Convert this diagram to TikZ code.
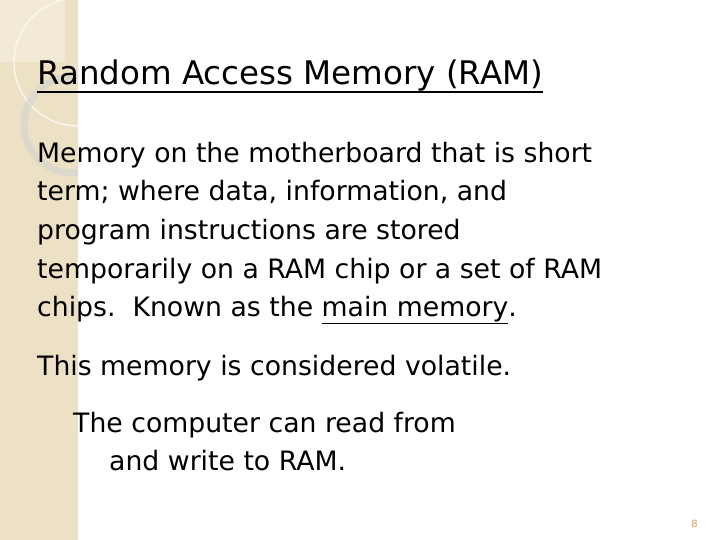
\documentclass[tikz,border=0pt]{standalone}
\usepackage{fontspec}
\setmainfont{DejaVu Sans}
\definecolor{strip}{RGB}{236,225,196}
\definecolor{stripLight}{RGB}{242,234,212}
\definecolor{pagenum}{RGB}{215,160,100}
\tikzset{
    body/.style={anchor=base west, inner sep=0pt, font=\fontsize{26.7}{32}\selectfont},
    heading/.style={anchor=base west, inner sep=0pt, font=\fontsize{32.5}{38}\selectfont}
}
\begin{document}
\begin{tikzpicture}[x=1pt, y=-1pt]
    \useasboundingbox (0,0) rectangle (720,540);
    % Side strip
    \fill[strip] (0,0) rectangle (78,540);
    \fill[stripLight] (0,0) rectangle (65,62);
    \begin{scope}
        \clip (0,0) rectangle (78,540);
        \draw[white!85!strip, line width=1.2pt] (78,62) circle (64);
        \draw[gray!35, line width=7pt, opacity=0.6] (72,125) circle (48);
    \end{scope}
    % Title
    \node[heading] (title) at (37,85) {Random Access Memory (RAM)};
    \draw[line width=2pt] (title.base west) ++(0,7) -- ([yshift=-7pt]title.base east);
    % Body
    \node[body] (l1) at (37,163) {Memory on the motherboard that is short};
    \node[body] (l2) at (37,201) {term; where data, information, and};
    \node[body] (l3) at (37,240) {program instructions are stored};
    \node[body] (l4) at (37,278) {temporarily on a RAM chip or a set of RAM};
    \node[body] (l5) at (37,316) {chips.\ \ Known as the \underline{main memory}.};
    \node[body] (vol) at (37,375) {This memory is considered volatile.};
    \node[body] (rw1) at (73,432) {The computer can read from};
    \node[body] (rw2) at (109,470) {and write to RAM.};
    % Page number
    \node[anchor=base east, inner sep=0pt, font=\fontsize{10}{12}\selectfont, text=pagenum] (page) at (698,527) {8};
\end{tikzpicture}
\end{document}
